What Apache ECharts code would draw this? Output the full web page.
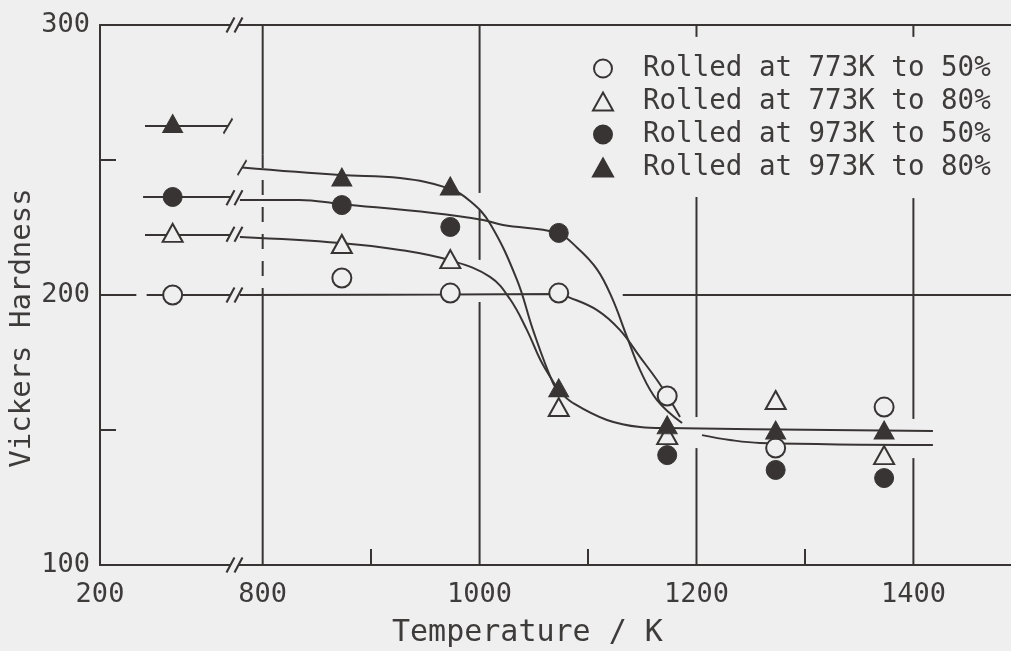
<!DOCTYPE html>
<html><head><meta charset="utf-8">
<script src="https://cdn.jsdelivr.net/npm/echarts@6/dist/echarts.min.js"></script>
<style>html,body{margin:0;padding:0;background:#efefef;}#c{width:1011px;height:651px;}</style>
</head><body><div id="c"></div>
<script>
// ---------------- DATA ----------------
// Annealing temperatures (K)
const annealT = [873, 973, 1073, 1173, 1273, 1373];
// Position of the as-rolled points on the compressed (broken) left part of the axis
const asRolledPos = 717;
const seriesNames = ['Rolled at 773K to 50%', 'Rolled at 773K to 80%', 'Rolled at 973K to 50%', 'Rolled at 973K to 80%'];
// Vickers hardness, as-rolled
const hvAsRolled = [200, 223, 236.3, 263.5];
// Vickers hardness after annealing at annealT
const hv773_50 = [206.3, 200.7, 200.7, 162.6, 143.3, 158.5];
const hv773_80 = [218.9, 213.3, 158.5, 148.1, 161.1, 140.7];
const hv973_50 = [233.3, 225.2, 223.0, 140.7, 135.2, 132.2];
const hv973_80 = [243.7, 240.4, 165.6, 151.9, 150.0, 150.0];
// Hand-drawn fit curves [T, HV]
const fit773_50_left = [[693, 200], [770, 200]];
const fit773_50 = [[779, 200], [973, 200.2], [1073, 200.4], [1081.5, 199.3], [1108.3, 194.4], [1129.5, 187], [1148, 177], [1163.6, 168.5], [1175.6, 161.1], [1184.8, 154.8]];
const fit773_80_left = [[691.5, 222.2], [770, 222.2]];
const fit773_80 = [[779, 221.5], [871.3, 219.3], [926.6, 216.7], [975, 212.6], [1009.6, 206.7], [1028, 198.5], [1043.7, 187], [1056, 176], [1067.7, 168], [1074.2, 164.1]];
const fit973_50_left = [[689.7, 236.3], [770, 236.3]];
const fit973_50 = [[779, 235.2], [834, 235.2], [871.3, 233.7], [957, 230.4], [1003.2, 227.8], [1021.6, 225.9], [1071.4, 223], [1090, 217.5], [1108.3, 209.5], [1122, 199], [1136, 184.4], [1148, 172.2], [1163.6, 161.1], [1186.7, 152.6]];
const fit973_80_left = [[691.5, 262.6], [768, 262.6]];
const fit973_80 = [[781, 247.2], [871.3, 244.4], [926.6, 243.3], [971, 239.6], [992, 234.5], [1009.6, 226.5], [1034.5, 205.6], [1049.3, 187], [1067.7, 167.4], [1074.2, 164.1]];
const fit80_tail = [[1074.2, 164.1], [1086.1, 160], [1117.5, 153.7], [1148, 151.1], [1172.8, 150.7], [1418, 149.6]];
const fit50_tail = [[1205.1, 148.1], [1230.9, 146.3], [1258.6, 145.2], [1418, 144.4]];
// Axis tick labels
const xLabelValues = [650, 800, 1000, 1200, 1400];
const xLabelText = ['200', '800', '1000', '1200', '1400'];
const xMinorTicks = [900, 1100, 1300];
const yLabelValues = [100, 200, 300];

// ---------------- STYLE ----------------
const INK = '#383434';
const BG = '#efefef';
const TXT = '#3e3b3b';
const FONT = '"DejaVu Sans Mono", "Liberation Mono", monospace';
const BREAK_AT = 774;

// gridline pieces (hand-drawn gaps in the original)
const vGridPieces = [
  [800, 252, 300, false], [800, 197, 252, true], [800, 100, 197, false],
  [1000, 237.8, 300, false], [1000, 213, 231.5, false], [1000, 100, 197.4, false],
  [1200, 295.6, 300, false], [1200, 154.8, 236.3, false], [1200, 100, 143.3, false],
  [1400, 295.6, 300, false], [1400, 154.1, 235.9, false], [1400, 100, 139.6, false]
];
const hGridPieces = [[200, 650, 683.5], [200, 1132, 1490]];
const doubleBreaks = [[BREAK_AT, 300], [BREAK_AT, 100], [BREAK_AT, 200], [BREAK_AT, 222.5], [BREAK_AT, 236]];
const singleBreaks = [[768, 262.6], [781, 247.2]];

function lineS(data, extra) {
  return Object.assign({
    type: 'line', data: data, symbol: 'none', showSymbol: false, smooth: 0.4,
    clip: false, silent: true, z: 2, animation: false,
    lineStyle: { color: INK, width: 2 }
  }, extra || {});
}

const series = [];
// grid pieces
vGridPieces.forEach(p => series.push(lineS([[p[0], p[1]], [p[0], p[2]]], {
  smooth: false, z: 1, lineStyle: { color: INK, width: 2, type: p[3] ? [15, 12] : 'solid' }
})));
hGridPieces.forEach(p => series.push(lineS([[p[1], p[0]], [p[2], p[0]]], { smooth: false, z: 1 })));
// fit curves
[fit773_50_left, fit773_80_left, fit973_50_left, fit973_80_left].forEach(d => series.push(lineS(d, { smooth: false })));
[fit773_50, fit773_80, fit973_50, fit973_80, fit80_tail, fit50_tail].forEach(d => series.push(lineS(d)));

// markers
const hvSets = [hv773_50, hv773_80, hv973_50, hv973_80];
const symbols = ['circle', 'triangle', 'circle', 'triangle'];
const filled = [false, false, true, true];
hvSets.forEach((hv, k) => {
  const pts = [[asRolledPos, hvAsRolled[k]]].concat(annealT.map((t, i) => [t, hv[i]]));
  series.push({
    name: seriesNames[k], type: 'scatter', data: pts, clip: false, z: 6,
    symbol: symbols[k], symbolSize: symbols[k] === 'circle' ? 19 : [20, 18],
    itemStyle: filled[k] ? { color: INK, borderColor: INK, borderWidth: 1, opacity: 1 } : { color: BG, borderColor: INK, borderWidth: 2, opacity: 1 },
    animation: false
  });
});

// axis break marks
series.push({
  type: 'scatter', data: doubleBreaks, clip: false, silent: true, z: 7, animation: false,
  symbol: 'path://M0,15L8,0L16,0L8,15Z', symbolSize: [16, 15],
  itemStyle: { color: BG, borderWidth: 0, opacity: 1 }
});
series.push({
  type: 'scatter', data: doubleBreaks, clip: false, silent: true, z: 8, animation: false,
  symbol: 'path://M0,15L8,0M8,15L16,0', symbolSize: [16, 15],
  itemStyle: { color: 'transparent', borderColor: INK, borderWidth: 2, opacity: 1 }
});
series.push({
  type: 'scatter', data: singleBreaks, clip: false, silent: true, z: 8, animation: false,
  symbol: 'path://M0,15L8,0', symbolSize: [9, 15],
  itemStyle: { color: 'transparent', borderColor: INK, borderWidth: 2, opacity: 1 }
});

const option = {
  backgroundColor: BG,
  animation: false,
  grid: { left: 100, top: 25, right: 0, bottom: 86 },
  legend: {
    data: seriesNames, orient: 'vertical', left: 592, top: 52, padding: 0,
    itemWidth: 20, itemHeight: 18, itemGap: 0, selectedMode: false,
    textStyle: { fontFamily: FONT, fontSize: 27.5, color: TXT, lineHeight: 33, padding: [0, 0, 0, 25] }
  },
  xAxis: [{
    type: 'value', min: 650, max: 1490, interval: 50, position: 'bottom',
    axisLine: { show: true, lineStyle: { color: INK, width: 2 } },
    axisTick: { show: true, inside: true, length: 16, customValues: xMinorTicks, lineStyle: { color: INK, width: 2 } },
    axisLabel: {
      show: true, customValues: xLabelValues, margin: 16,
      fontFamily: FONT, fontSize: 27, color: TXT,
      formatter: v => { const i = xLabelValues.indexOf(v); return i >= 0 ? xLabelText[i] : ''; }
    },
    splitLine: { show: false }
  }, {
    type: 'value', min: 650, max: 1490, position: 'top',
    axisLine: { show: true, onZero: false, lineStyle: { color: INK, width: 2 } },
    axisTick: { show: false }, axisLabel: { show: false }, splitLine: { show: false }
  }],
  yAxis: {
    type: 'value', min: 100, max: 300, interval: 50,
    axisLine: { show: true, lineStyle: { color: INK, width: 2 } },
    axisTick: { show: true, inside: true, length: 16, lineStyle: { color: INK, width: 2 } },
    axisLabel: {
      margin: 10, fontFamily: FONT, fontSize: 27, color: TXT,
      formatter: v => yLabelValues.indexOf(v) >= 0 ? String(v) : ''
    },
    splitLine: { show: false }
  },
  graphic: [
    { type: 'text', x: 22, y: 328, rotation: Math.PI / 2, silent: true,
      style: { text: 'Vickers Hardness', font: '29px "DejaVu Sans Mono"', fill: TXT,
               textAlign: 'center', textVerticalAlign: 'middle', align: 'center', verticalAlign: 'middle' } },
    { type: 'text', x: 392, y: 633, silent: true,
      style: { text: 'Temperature / K', font: '30px "DejaVu Sans Mono"', fill: TXT,
               textAlign: 'left', textVerticalAlign: 'middle', align: 'left', verticalAlign: 'middle' } }
  ],
  series: series
};

const chart = echarts.init(document.getElementById('c'), null, { renderer: 'canvas' });
chart.setOption(option);
</script>
</body></html>
